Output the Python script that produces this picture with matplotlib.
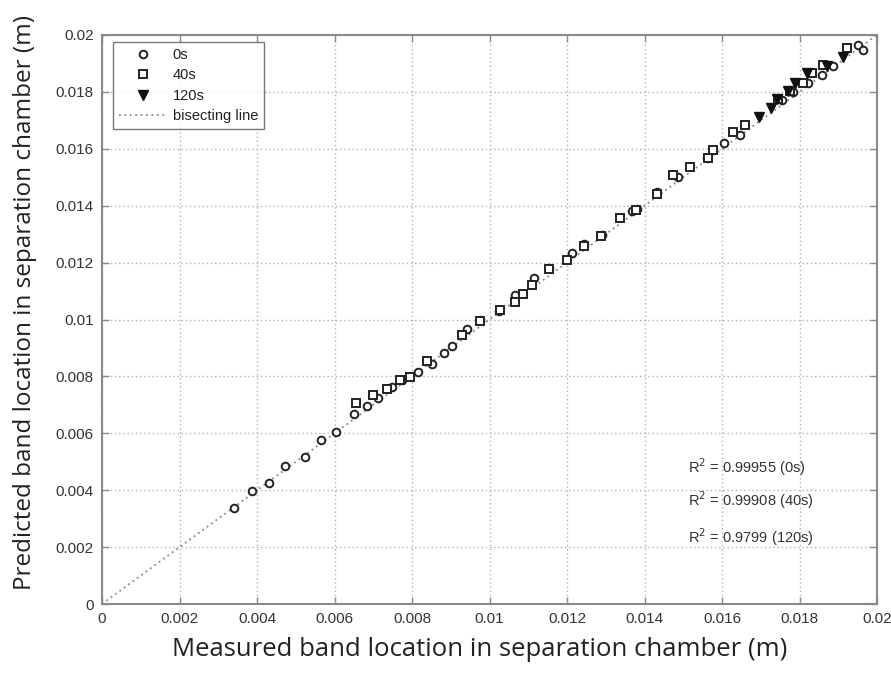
import matplotlib
matplotlib.use("Agg")
import matplotlib.pyplot as plt

# measured (x) vs predicted (y) band locations, metres
t0_x = [0.00341, 0.00388, 0.00432, 0.00472, 0.00524, 0.00565, 0.00604, 0.00649,
        0.00685, 0.00713, 0.00748, 0.00773, 0.00816, 0.00851, 0.00883, 0.00902,
        0.00943, 0.00975, 0.01025, 0.01066, 0.01115, 0.01154, 0.01212, 0.01244,
        0.01289, 0.01367, 0.01380, 0.01431, 0.01487, 0.01561, 0.01605, 0.01646,
        0.01754, 0.01783, 0.01822, 0.01857, 0.01886, 0.01952, 0.01963]
t0_y = [0.00336, 0.00398, 0.00426, 0.00485, 0.00516, 0.00576, 0.00606, 0.00667,
        0.00696, 0.00723, 0.00764, 0.00787, 0.00817, 0.00844, 0.00881, 0.00907,
        0.00968, 0.01000, 0.01031, 0.01086, 0.01145, 0.01180, 0.01233, 0.01265,
        0.01297, 0.01382, 0.01387, 0.01449, 0.01502, 0.01567, 0.01621, 0.01649,
        0.01772, 0.01800, 0.01830, 0.01859, 0.01891, 0.01965, 0.01947]

t40_x = [0.00655, 0.00700, 0.00735, 0.00769, 0.00795, 0.00838, 0.00928, 0.00975,
         0.01027, 0.01066, 0.01087, 0.01109, 0.01154, 0.01201, 0.01244, 0.01287,
         0.01337, 0.01378, 0.01431, 0.01474, 0.01517, 0.01565, 0.01578, 0.01629,
         0.01659, 0.01745, 0.01775, 0.01810, 0.01831, 0.01861, 0.01922]
t40_y = [0.00705, 0.00735, 0.00755, 0.00787, 0.00797, 0.00855, 0.00946, 0.00995,
         0.01035, 0.01060, 0.01090, 0.01121, 0.01179, 0.01209, 0.01258, 0.01294,
         0.01356, 0.01385, 0.01441, 0.01508, 0.01535, 0.01567, 0.01596, 0.01660,
         0.01684, 0.01774, 0.01803, 0.01830, 0.01865, 0.01895, 0.01953]

t120_x = [0.01696, 0.01726, 0.01741, 0.01771, 0.01788, 0.01819, 0.01870, 0.01913]
t120_y = [0.01711, 0.01742, 0.01774, 0.01804, 0.01833, 0.01865, 0.01890, 0.01922]

r2_labels = ["R$^2$ = 0.99955 (0s)", "R$^2$ = 0.99908 (40s)", "R$^2$ = 0.9799 (120s)"]
ticks = [0, 0.002, 0.004, 0.006, 0.008, 0.01, 0.012, 0.014, 0.016, 0.018, 0.02]
tick_labels = ["0", "0.002", "0.004", "0.006", "0.008", "0.01", "0.012",
               "0.014", "0.016", "0.018", "0.02"]

plt.rcParams["font.family"] = ["Liberation Sans", "DejaVu Sans"]

fig = plt.figure(figsize=(8.91, 6.73), dpi=100)
ax = fig.add_axes([0.1145, 0.1025, 0.8698, 0.8455])

ax.set_xlim(0, 0.02)
ax.set_ylim(0, 0.02)
ax.set_xticks(ticks)
ax.set_yticks(ticks)
ax.set_xticklabels(tick_labels)
ax.set_yticklabels(tick_labels)

ax.grid(True, linestyle=(0, (1, 2)), color="#b0b0b0", lw=1.0)
ax.set_axisbelow(True)

ax.plot(t0_x, t0_y, ls="none", marker="o", ms=5.5, mfc="white", mec="#222222",
        mew=1.4, label="0s", zorder=3)
ax.plot(t40_x, t40_y, ls="none", marker="s", ms=6, mfc="white", mec="#222222",
        mew=1.4, label="40s", zorder=3)
ax.plot(t120_x, t120_y, ls="none", marker="v", ms=6.5, mfc="#111111", mec="#111111",
        label="120s", zorder=4)
ax.plot([0, 0.02], [0, 0.02], ls=(0, (1, 2)), color="#888888", lw=1.3,
        label="bisecting line", zorder=2)

r2_y = [0.241, 0.183, 0.118]
for s, yy in zip(r2_labels, r2_y):
    ax.text(0.7555, yy, s, transform=ax.transAxes, ha="left",
            va="center", fontsize=10.5, color="#333333")

for sp in ax.spines.values():
    sp.set_color("#8a8a8a")
    sp.set_linewidth(1.5)
ax.tick_params(direction="in", top=True, right=True, length=5, width=1,
               color="#8a8a8a", labelsize=11, labelcolor="#333333", pad=6)

leg = ax.legend(loc="upper left", bbox_to_anchor=(0.0142, 0.988), fontsize=10.5,
                frameon=True, fancybox=False, edgecolor="#555555",
                handlelength=3.3, handletextpad=0.4, borderpad=0.4,
                labelspacing=0.45, borderaxespad=0)
leg.get_frame().set_linewidth(1.0)
for t in leg.get_texts():
    t.set_color("#222222")

fig.text(480 / 891, 1 - 650 / 673,
         "Measured band location in separation chamber (m)",
         fontsize=18.5, family=["Open Sans", "DejaVu Sans"], color="#222222",
         ha="center", va="center")
fig.text(25 / 891, 1 - 303 / 673,
         "Predicted band location in separation chamber (m)",
         fontsize=17.5, family=["Open Sans", "DejaVu Sans"], color="#222222",
         ha="center", va="center", rotation=90)

fig.savefig("out.png", dpi=100, facecolor="white")
